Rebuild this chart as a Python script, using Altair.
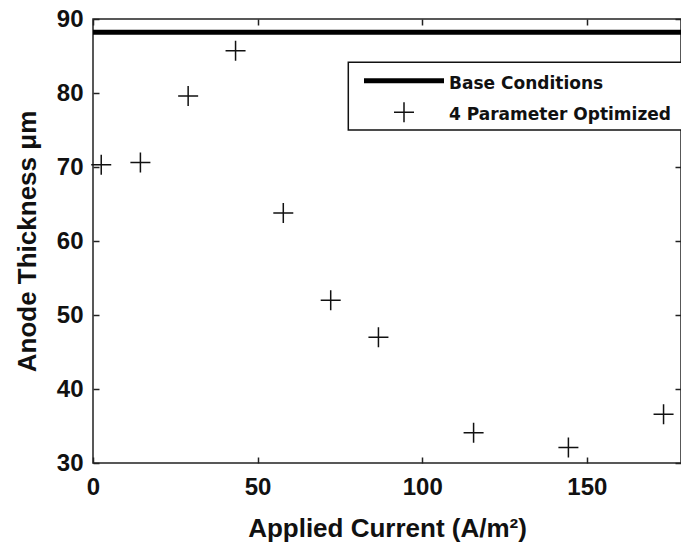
import altair as alt
import pandas as pd

# ---- data ----
current = [2.5, 14.4, 28.9, 43.3, 57.8, 72.2, 86.7, 115.6, 144.4, 173.3]
thickness = [70.3, 70.6, 79.6, 85.7, 63.8, 52.0, 47.0, 34.1, 32.1, 36.6]
base_thickness = [88.2]
legend_labels = ["Base Conditions", "4 Parameter Optimized"]
x_ticks = [0, 50, 100, 150]
y_ticks = [30, 40, 50, 60, 70, 80, 90]
x_domain = [0, 178.6]
y_domain = [30, 90]

PLUS = "M-1,0L1,0M0,-1L0,1"
INK = "#111111"
FRAME = "#222222"
AXFONT = "Liberation Sans"
LEGFONT = "DejaVu Sans"

pts = pd.DataFrame({"current": current, "thickness": thickness})
base = pd.DataFrame({"thickness": base_thickness})
leg = pd.DataFrame({"label": legend_labels, "row": [0, 1]})

xs = alt.Scale(domain=x_domain, nice=False, zero=False)
ys = alt.Scale(domain=y_domain, nice=False, zero=False)

tick_common = dict(domain=False, grid=False, tickSize=6, tickWidth=1.5,
                   tickColor=FRAME, offset=-6)

x_bottom = alt.Axis(orient="bottom", values=x_ticks, labelFont=AXFONT, labelFontSize=24,
                    labelFontWeight="bold", labelColor=INK, labelPadding=12,
                    labelFlush=False, labelOverlap=False,
                    title="Applied Current (A/m²)", titleFont=AXFONT, titleFontSize=26,
                    titleFontWeight="bold", titleColor=INK, titleBaseline="alphabetic",
                    titleY=79.5, **tick_common)
y_left = alt.Axis(orient="left", values=y_ticks, labelFont=AXFONT, labelFontSize=24,
                  labelFontWeight="bold", labelColor=INK, labelPadding=10,
                  labelOverlap=False,
                  title="Anode Thickness μm", titleFont=AXFONT, titleFontSize=26,
                  titleFontWeight="bold", titleColor=INK, titleBaseline="alphabetic",
                  titleX=-64, **tick_common)
x_top = alt.Axis(orient="top", values=x_ticks, labels=False, title=None, **tick_common)
y_right = alt.Axis(orient="right", values=y_ticks, labels=False, title=None, **tick_common)

points = alt.Chart(pts).mark_point(shape=PLUS, size=400, filled=False, color=INK,
                                   strokeWidth=1.5, opacity=1).encode(
    x=alt.X("current:Q", scale=xs, axis=x_bottom),
    y=alt.Y("thickness:Q", scale=ys, axis=y_left),
)

frame_axes = alt.Chart(pts).mark_point(opacity=0).encode(
    x=alt.X("current:Q", scale=xs, axis=x_top),
    y=alt.Y("thickness:Q", scale=ys, axis=y_right),
)

base_line = alt.Chart(base).mark_rule(color="black", strokeWidth=5).encode(
    y=alt.Y("thickness:Q", scale=ys, axis=None)
)

# ---- legend (drawn by hand, box runs off the right edge like the reference) ----
legend_box = alt.Chart(pd.DataFrame({"k": [0]})).mark_rect(
    fill="white", stroke=INK, strokeWidth=1.5).encode(
    x=alt.value(255.3), x2=alt.value(650), y=alt.value(43.3), y2=alt.value(111)
)
legend_line = alt.Chart(leg).transform_filter("datum.row == 0").mark_rule(
    color="black", strokeWidth=5).encode(
    x=alt.value(271), x2=alt.value(351), y=alt.value(61.7)
)
legend_plus = alt.Chart(leg).transform_filter("datum.row == 1").mark_point(
    shape=PLUS, size=400, filled=False, color=INK, strokeWidth=1.5, opacity=1).encode(
    x=alt.value(311), y=alt.value(93.3)
)
text_style = dict(align="left", baseline="middle", font=LEGFONT, fontSize=17,
                  fontWeight="bold", color=INK)
legend_text0 = alt.Chart(leg).transform_filter("datum.row == 0").mark_text(**text_style).encode(
    x=alt.value(356), y=alt.value(65.4), text="label:N"
)
legend_text1 = alt.Chart(leg).transform_filter("datum.row == 1").mark_text(**text_style).encode(
    x=alt.value(356), y=alt.value(96), text="label:N"
)

chart = alt.layer(
    base_line, points, frame_axes,
    legend_box, legend_line, legend_plus, legend_text0, legend_text1,
).resolve_axis(x="independent", y="independent").properties(
    width=588, height=444,
    autosize=alt.AutoSizeParams(type="none"),
    padding={"left": 93, "top": 19, "right": 0, "bottom": 83},
    background="white",
).configure_view(stroke=FRAME, strokeWidth=1.5)

chart.save("out.html", embed_options={"renderer": "svg", "actions": False})
